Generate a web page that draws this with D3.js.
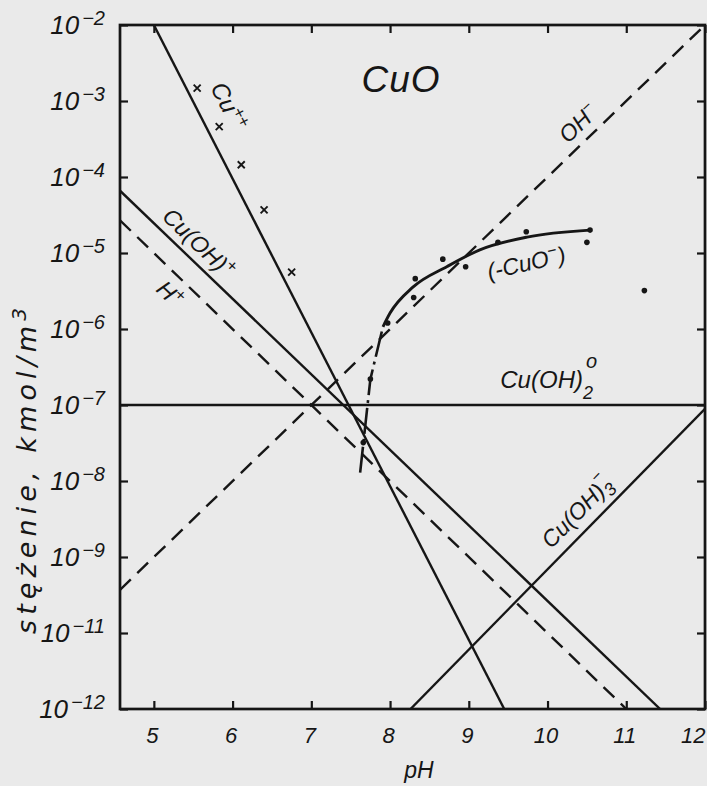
<!DOCTYPE html>
<html>
<head>
<meta charset="utf-8">
<script src="https://cdn.jsdelivr.net/npm/d3@7"></script>
<style>
  html, body { margin: 0; padding: 0; background: #eaeaea; }
  svg { display: block; }
  text { font-family: "Liberation Sans", Arial, sans-serif; font-style: italic; fill: #161616; }
</style>
</head>
<body>
<svg id="chart" width="707" height="786"></svg>
<script>
// ---- axes ----
const phDomain = [4.57, 12];
const phTicks = [5, 6, 7, 8, 9, 10, 11, 12];
const concDomain = [1e-11, 1e-2];
const concTicks = [1e-2, 1e-3, 1e-4, 1e-5, 1e-6, 1e-7, 1e-8, 1e-9, 1e-10, 1e-11];
const concTickExponents = ["−2", "−3", "−4", "−5", "−6", "−7", "−8", "−9", "−11", "−12"];

// ---- species lines: [pH, concentration kmol/m3] ----
const cuIon      = [[5.0, 1e-2], [9.45, 1e-11]];
const cuOHIon    = [[4.57, 6.6e-5], [11.43, 1e-11]];
const hIon       = [[4.57, 2.69e-5], [11.0, 1e-11]];
const ohIon      = [[4.57, 3.7e-10], [12.0, 1e-2]];
const cuOH2      = [[4.57, 1e-7], [12.0, 1e-7]];
const cuOH3Ion   = [[8.26, 1e-11], [12.0, 8.9e-8]];

// measured CuO- solubility curve and its steep lower branch
const cuOCurve = [[7.91, 1.07e-6], [8.0, 1.62e-6], [8.29, 3.55e-6], [8.72, 6.6e-6],
                  [9.14, 1.1e-5], [9.74, 1.62e-5], [10.54, 2.0e-5]];
const cuOSteep = [[7.62, 1.29e-8], [7.75, 2.19e-7], [7.91, 1.07e-6]];

// measured points
const cuOPoints = [[7.97, 1.2e-6], [8.32, 4.6e-6], [8.30, 2.6e-6], [8.67, 8.3e-6], [8.96, 6.6e-6],
                   [9.37, 1.38e-5], [9.73, 1.9e-5], [10.50, 1.38e-5], [11.23, 3.2e-6],
                   [7.75, 2.2e-7], [7.66, 3.2e-8], [10.54, 2.0e-5]];
const cuPoints = [[5.55, 1.48e-3], [5.83, 4.6e-4], [6.11, 1.45e-4], [6.40, 3.7e-5], [6.75, 5.6e-6]];

const ink = "#161616";
const svg = d3.select("#chart");
const W = 707, H = 786;
const plot = { left: 120, right: 705, top: 25, bottom: 709 };

const x = d3.scaleLinear().domain(phDomain).range([plot.left, plot.right]);
const y = d3.scaleLog().domain(concDomain).range([plot.bottom, plot.top]);

svg.append("rect").attr("width", W).attr("height", H).attr("fill", "#eaeaea");

svg.append("defs").append("clipPath").attr("id", "plotClip")
  .append("rect").attr("x", plot.left).attr("y", plot.top)
  .attr("width", plot.right - plot.left).attr("height", plot.bottom - plot.top);

// ---- ticks on all four sides, pointing inward ----
const tick = 8;
function styleAxis(g) {
  g.select(".domain").remove();
  g.selectAll(".tick line").attr("stroke", ink).attr("stroke-width", 2.2);
}
svg.append("g").attr("transform", `translate(0,${plot.bottom})`)
  .call(d3.axisBottom(x).tickValues(phTicks).tickSizeInner(-tick).tickSizeOuter(0).tickPadding(18))
  .call(styleAxis)
  .call(g => g.selectAll(".tick text")
    .attr("font-size", 22).attr("font-family", null).attr("fill", ink)
    .attr("text-anchor", (d, i) => i === phTicks.length - 1 ? "end" : "middle")
    .attr("dx", (d, i) => i === phTicks.length - 1 ? 0 : -2));
svg.append("g").attr("transform", `translate(0,${plot.top})`)
  .call(d3.axisTop(x).tickValues(phTicks).tickSizeInner(-tick).tickSizeOuter(0).tickFormat(""))
  .call(styleAxis);
svg.append("g").attr("transform", `translate(${plot.right},0)`)
  .call(d3.axisRight(y).tickValues(concTicks).tickSizeInner(-tick).tickSizeOuter(0).tickFormat(""))
  .call(styleAxis);
svg.append("g").attr("transform", `translate(${plot.left},0)`)
  .call(d3.axisLeft(y).tickValues(concTicks).tickSizeInner(-tick).tickSizeOuter(0).tickFormat(""))
  .call(styleAxis);

// left tick labels: 10 with raised exponent
concTicks.forEach((v, i) => {
  const t = svg.append("text")
    .attr("x", plot.left - 15).attr("y", y(v) + 9)
    .attr("text-anchor", "end").attr("font-size", 26);
  t.append("tspan").text("10");
  t.append("tspan").attr("font-size", 20).attr("dx", 3).attr("dy", -9).text(concTickExponents[i]);
});

// frame
svg.append("rect")
  .attr("x", plot.left).attr("y", plot.top)
  .attr("width", plot.right - plot.left).attr("height", plot.bottom - plot.top)
  .attr("fill", "none").attr("stroke", ink).attr("stroke-width", 2.7);

// ---- lines ----
const line = d3.line().x(d => x(d[0])).y(d => y(d[1]));
const lines = svg.append("g").attr("clip-path", "url(#plotClip)")
  .attr("fill", "none").attr("stroke", ink).attr("stroke-width", 2.4);

[cuIon, cuOHIon, cuOH2, cuOH3Ion].forEach(s => lines.append("path").attr("d", line(s)));
[hIon, ohIon].forEach(s => lines.append("path").attr("d", line(s)).attr("stroke-dasharray", "15,9"));

lines.append("path").attr("d", line.curve(d3.curveMonotoneX)(cuOCurve)).attr("stroke-width", 2.9);
line.curve(d3.curveLinear);
lines.append("path").attr("d", line(cuOSteep)).attr("stroke-width", 2.6)
  .attr("stroke-dasharray", "26,5,3,5");

// measured points
svg.append("g").selectAll("circle").data(cuOPoints).join("circle")
  .attr("cx", d => x(d[0])).attr("cy", d => y(d[1])).attr("r", 2.8).attr("fill", ink);
svg.append("g").selectAll("path").data(cuPoints).join("path")
  .attr("transform", d => `translate(${x(d[0])},${y(d[1])})`)
  .attr("d", "M-3.5,-3.5L3.5,3.5M-3.5,3.5L3.5,-3.5")
  .attr("stroke", ink).attr("stroke-width", 1.9);

// ---- labels ----
function slopeAngle(s) {
  const [a, b] = s;
  return Math.atan2(y(b[1]) - y(a[1]), x(b[0]) - x(a[0])) * 180 / Math.PI;
}
function label(ph, c, angle, size, parts, anchor) {
  const t = svg.append("text")
    .attr("transform", `translate(${x(ph)},${y(c)}) rotate(${angle})`)
    .attr("text-anchor", anchor || "middle").attr("font-size", size);
  parts.forEach(p => {
    const s = t.append("tspan").text(p.t);
    if (p.size) s.attr("font-size", p.size);
    if (p.dx) s.attr("dx", p.dx);
    if (p.dy) s.attr("dy", p.dy);
  });
  return t;
}

label(8.14, 1.95e-3, 0, 37, [{ t: "CuO" }]).attr("dy", 13).attr("letter-spacing", 1);
label(5.95, 8.5e-4, slopeAngle(cuIon), 24, [{ t: "Cu", dy: 8 }, { t: "++", size: 17, dy: -9 }]);
label(5.57, 1.35e-5, slopeAngle(cuOHIon), 23, [{ t: "Cu(OH)", dy: 8 }, { t: "+", size: 17, dy: -9 }]);
label(5.205, 2.9e-6, slopeAngle(hIon), 23, [{ t: "H", dy: 8 }, { t: "+", size: 17, dy: -9 }]);
label(10.39, 5.1e-4, slopeAngle(ohIon), 23, [{ t: "OH", dy: 8 }, { t: "−", size: 16, dy: -9 }]);
label(9.73, 7.4e-6, -13, 23, [{ t: "(-CuO", dy: 8 }, { t: "−", size: 16, dy: -9 }, { t: ")", dy: 9 }]);
label(9.40, 1.66e-7, 0, 24, [{ t: "Cu(OH)" }, { t: "2", size: 18, dy: 11 }, { t: "o", size: 20, dx: -7, dy: -31 }], "start");
label(10.37, 3.9e-9, slopeAngle(cuOH3Ion), 23, [{ t: "Cu(OH)", dy: 8 }, { t: "3", size: 18, dy: 6 }, { t: "−", size: 16, dx: -10, dy: -20 }]);

// axis titles
svg.append("text").attr("x", 419).attr("y", 778).attr("text-anchor", "middle")
  .attr("font-size", 23).text("pH");
const yt = svg.append("text")
  .attr("transform", "translate(36,471) rotate(-90)")
  .attr("text-anchor", "middle").attr("font-size", 27)
  .style("font-family", "'DejaVu Sans', sans-serif")
  .attr("textLength", 326).attr("lengthAdjust", "spacing");
yt.append("tspan").text("stężenie, kmol/m");
yt.append("tspan").attr("font-size", 20).attr("dy", -10).text("3");
</script>
</body>
</html>
